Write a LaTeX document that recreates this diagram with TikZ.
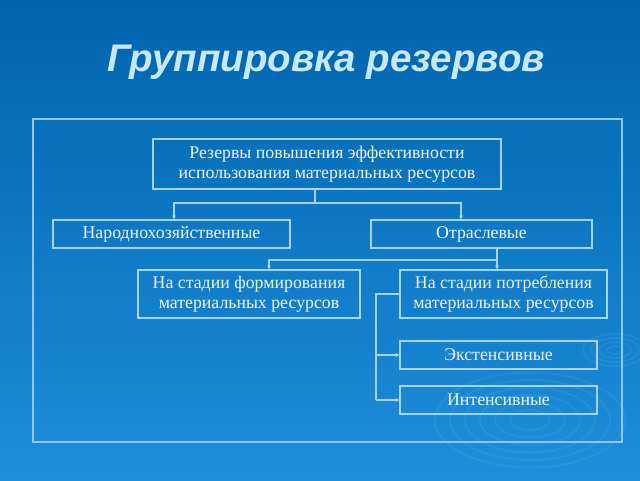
\documentclass[tikz,border=0pt]{standalone}
\usepackage{fontspec}
\setmainfont{Liberation Serif}
\newfontfamily\titlefont{Liberation Sans}
\usetikzlibrary{arrows.meta}
\definecolor{bgtop}{RGB}{0,100,174}
\definecolor{bgmid}{RGB}{10,118,194}
\definecolor{bgbot}{RGB}{30,142,220}
\definecolor{framec}{RGB}{140,200,240}
\definecolor{boxline}{RGB}{165,212,250}
\definecolor{titlec}{RGB}{200,232,255}
\definecolor{textc}{RGB}{240,246,255}
\begin{document}
\begin{tikzpicture}[x=1pt,y=-1pt,
  box/.style={draw=boxline, line width=1.3pt, inner sep=0pt, align=center, text=textc,
    font=\fontsize{17.8}{20}\selectfont},
  conn/.style={draw=boxline, line width=1.2pt},
  arr/.style={conn, -{Stealth[length=4pt,width=4pt]}},
  ripple/.style={draw=white, opacity=0.06, line width=2pt}]
\useasboundingbox (0,0) rectangle (640,480);
\shade[top color=bgtop, middle color=bgmid, bottom color=bgbot] (0,0) rectangle (640,480);
\begin{scope}
\clip (0,0) rectangle (640,480);
\foreach \r in {20,35,50,65,80,95}{\draw[ripple] (530,420) ellipse ({\r} and {0.5*\r});}
\foreach \r in {8,16,24,32}{\draw[ripple] (615,350) ellipse ({\r} and {0.5*\r});}
\end{scope}
\node[font=\titlefont\bfseries\itshape\fontsize{38.5}{44}\selectfont, text=titlec] (title) at (326,62) {Группировка резервов};
\node[draw=framec, line width=1.6pt, minimum width=589pt, minimum height=323pt, inner sep=0pt] (frame) at (327.5,280.5) {};
\node[box, minimum width=348pt, minimum height=50pt] (top) at (327,164) {Резервы повышения эффективности\\использования материальных ресурсов};
\node[box, minimum width=237pt, minimum height=28pt] (nar) at (171.5,234) {Народнохозяйственные};
\node[box, minimum width=221pt, minimum height=28pt] (otr) at (481.5,234) {Отраслевые};
\node[box, minimum width=222pt, minimum height=48pt] (form) at (249,294) {На стадии формирования\\материальных ресурсов};
\node[box, minimum width=207pt, minimum height=48pt] (potr) at (503.5,294) {На стадии потребления\\материальных ресурсов};
\node[box, minimum width=197pt, minimum height=28pt] (ext) at (498.5,355) {Экстенсивные};
\node[box, minimum width=197pt, minimum height=28pt] (int) at (498.5,400) {Интенсивные};
\coordinate (j1) at (315,203);
\coordinate (j2) at (497,260);
\coordinate (j3) at (376,0);
\draw[conn] ([xshift=-12pt]top.south) -- (j1);
\draw[arr] (j1) -| ([xshift=2.5pt]nar.north);
\draw[arr] (j1) -| ([xshift=-20.5pt]otr.north);
\draw[arr] ([xshift=15.5pt]otr.south) -- (potr.north -| j2);
\draw[arr] (j2) -| ([xshift=20pt]form.north);
\draw[conn] (potr.west) -- (potr.west -| j3) -- (int.west -| j3);
\draw[arr] (ext.west -| j3) -- (ext.west);
\draw[arr] (int.west -| j3) -- (int.west);
\end{tikzpicture}
\end{document}
